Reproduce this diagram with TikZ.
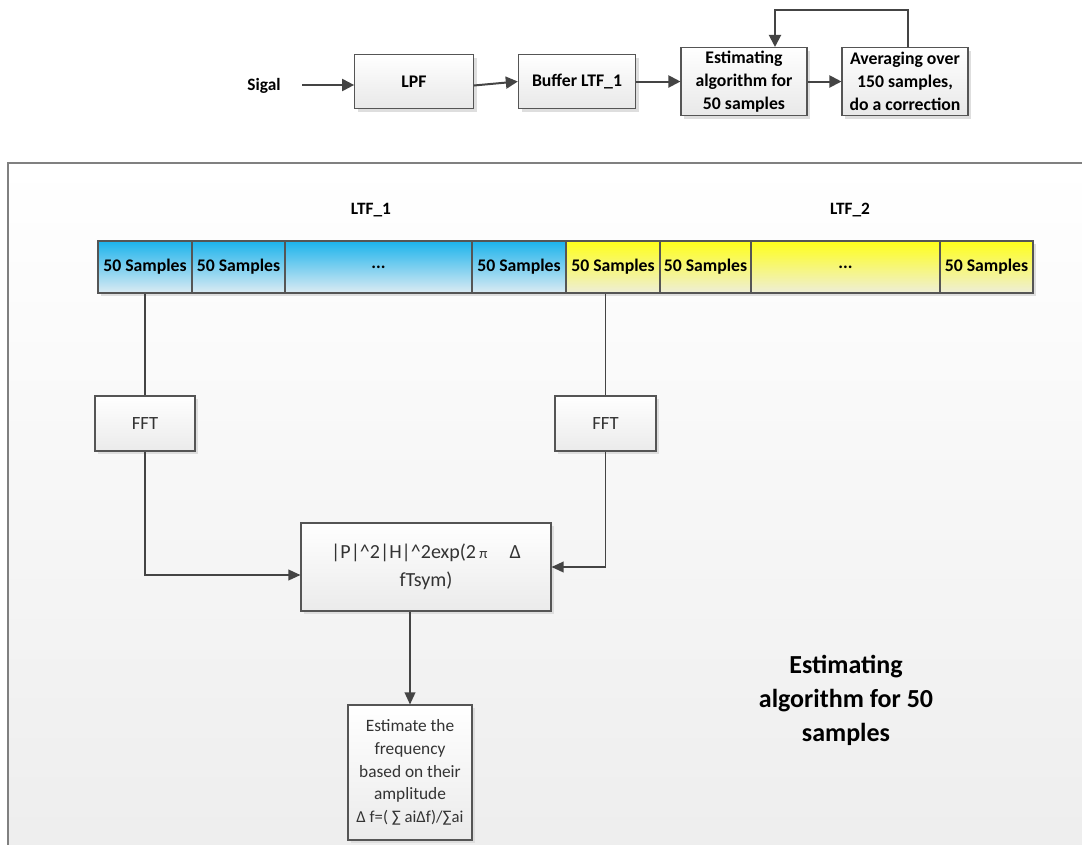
\documentclass[tikz,border=0pt]{standalone}
\usepackage{fontspec}
\setmainfont{Carlito}
\usetikzlibrary{arrows.meta,shadows,calc}
\definecolor{ln}{HTML}{444444}
\definecolor{bdr}{HTML}{555555}
\definecolor{frm}{HTML}{808080}
\definecolor{bluetop}{HTML}{1BB3EC}
\definecolor{bluebot}{HTML}{DCEBF3}
\definecolor{yeltop}{HTML}{FFFF1A}
\definecolor{yelbot}{HTML}{EEEED8}
\tikzset{
  boxbase/.style={draw=bdr, line width=0.8pt, inner sep=1pt, align=center,
    drop shadow={shadow xshift=2.5pt, shadow yshift=-2.5pt, fill=black!13, opacity=1}},
  topbox/.style={boxbase, top color=white, bottom color=black!9,
    font=\fontsize{13.3}{17.2}\selectfont\bfseries},
  lowbox/.style={boxbase, top color=white, bottom color=black!8,
    font=\fontsize{13}{17}\selectfont, text=black!80},
  bluecell/.style={boxbase, top color=bluetop, bottom color=bluebot,
    minimum height=39pt, font=\fontsize{13.3}{15}\selectfont\bfseries},
  yelcell/.style={boxbase, top color=yeltop, bottom color=yelbot,
    minimum height=39pt, font=\fontsize{13.3}{15}\selectfont\bfseries},
  arrA/.style={draw=ln, line width=1.5pt, -{Triangle[length=9pt,width=9pt]}},
  arrB/.style={draw=ln, line width=1.1pt, -{Triangle[length=9pt,width=8pt]}},
  lineB/.style={draw=ln, line width=1.1pt},
  lbl/.style={font=\fontsize{13}{15}\selectfont\bfseries},
}
\begin{document}
\begin{tikzpicture}[x=0.75pt,y=-0.75pt]
\useasboundingbox (0,0) rectangle (1082,844);
\clip (0,0) rectangle (1082,844);
\fill[white] (0,0) rectangle (1082,844);
% big frame
\shade[top color=white, bottom color=black!7] (8,163) rectangle (1100,870);
\draw[frm, line width=1.5pt] (1100,163) -- (8,163) -- (8,870);

% top row
\node[lbl] (sig) at (264,86) {Sigal};
\coordinate (sigend) at (302,85);
\node[topbox, minimum width=89pt, minimum height=40.5pt] (lpf) at (414,81.5) {LPF};
\node[topbox, minimum width=88pt, minimum height=40.5pt] (buf) at (577,81.5) {Buffer LTF\_1};
\node[topbox, minimum width=94.5pt, minimum height=51pt] (est) at (744,81.5) {Estimating\\algorithm for\\50 samples};
\node[topbox, minimum width=94.5pt, minimum height=51pt] (avg) at (905,81.5) {Averaging over\\150 samples,\\do a correction};
\draw[arrA] (sigend) -- (sigend -| lpf.west);
\draw[arrA] ([yshift=-3pt]lpf.east) -- (buf.west);
\draw[arrA] (buf.east) -- (est.west);
\draw[arrA] (est.east) -- (avg.west);
\draw[arrA] ($(avg.north)+(3,0)$) -- ++(0,-37) -| ($(est.north)+(31,0)$);

% labels
\node[lbl] (l1) at (371,210) {LTF\_1};
\node[lbl] (l2) at (850,210) {LTF\_2};

% bar
\node[bluecell, minimum width=70.5pt] (c1) at (145,267) {50 Samples};
\node[bluecell, minimum width=69.75pt] (c2) at (238.5,267) {50 Samples};
\node[bluecell, minimum width=140.25pt] (c3) at (378.5,267) {...};
\node[bluecell, minimum width=70.5pt] (c4) at (519,267) {50 Samples};
\node[yelcell, minimum width=70.5pt] (c5) at (613,267) {50 Samples};
\node[yelcell, minimum width=68.25pt] (c6) at (705.5,267) {50 Samples};
\node[yelcell, minimum width=141.75pt] (c7) at (845.5,267) {...};
\node[yelcell, minimum width=69.75pt] (c8) at (986.5,267) {50 Samples};

% FFT boxes
\node[lowbox, minimum width=75pt, minimum height=41.25pt, font=\fontsize{14}{17}\selectfont] (fft1) at (145,423.5) {FFT};
\node[lowbox, minimum width=75.75pt, minimum height=41.25pt, font=\fontsize{14}{17}\selectfont] (fft2) at (605.5,423.5) {FFT};
\draw[lineB] (c1.south) -- (fft1.north);
\draw[lineB] (fft2.north |- c5.south) -- (fft2.north);

% formula box
\node[lowbox, minimum width=187.5pt, minimum height=66pt, font=\fontsize{15}{21}\selectfont] (form) at (426,567)
  {|P|\textasciicircum 2|H|\textasciicircum 2exp(2\,{\fontsize{11}{12}\selectfont π}\hspace{1.1em}Δ\\fTsym)};
\draw[arrB] (fft1.south) |- ($(form.west)+(0,8)$);
\draw[arrB] (fft2.south) |- (form.east);

% estimate box
\node[lowbox, minimum width=93pt, minimum height=101.25pt] (est2) at (410,772.5)
  {Estimate the\\frequency\\based on their\\amplitude\\{\fontsize{12.5}{14}\selectfont Δ f=( ∑ aiΔf)/∑ai}};
\draw[arrB] (est2.north |- form.south) -- (est2.north);

% big title
\node[align=center, font=\fontsize{19.5}{25.5}\selectfont\bfseries] (title) at (846,700)
  {Estimating\\algorithm for 50\\samples};
\end{tikzpicture}
\end{document}
